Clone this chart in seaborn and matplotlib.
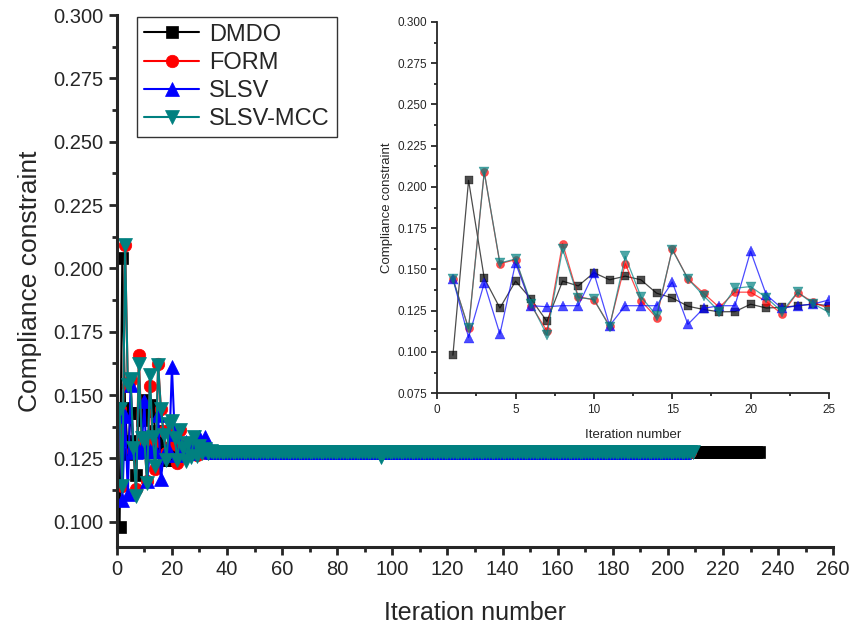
import numpy as np
import pandas as pd
import matplotlib
matplotlib.use("Agg")
import matplotlib.pyplot as plt
from matplotlib.ticker import MultipleLocator
import seaborn as sns

# values (iterations 1-35), then the converged level
dmdo_start = [0.098, 0.204, 0.1447, 0.1266, 0.1429, 0.1319, 0.1185, 0.1429, 0.140, 0.148,
              0.1437, 0.1459, 0.1437, 0.1356, 0.1327, 0.1277, 0.1257, 0.1243, 0.1244, 0.1289,
              0.1266, 0.127, 0.128, 0.129, 0.128, 0.128, 0.1278, 0.1277, 0.1276, 0.1276,
              0.1275, 0.1276, 0.1275, 0.1275, 0.1275]
form_start = [0.1443, 0.1142, 0.2091, 0.1535, 0.1559, 0.128, 0.1128, 0.1657, 0.1335, 0.1315,
              0.1159, 0.1535, 0.1311, 0.1207, 0.1624, 0.1443, 0.1356, 0.127, 0.1362, 0.1362,
              0.1305, 0.123, 0.136, 0.130, 0.1264, 0.129, 0.127, 0.1285, 0.1265, 0.128,
              0.127, 0.1278, 0.1272, 0.1276, 0.1274]
slsv_start = [0.1443, 0.1087, 0.1417, 0.1108, 0.1539, 0.128, 0.1274, 0.128, 0.128, 0.1478,
              0.1159, 0.128, 0.128, 0.128, 0.1423, 0.1167, 0.1264, 0.128, 0.128, 0.161,
              0.1346, 0.1264, 0.128, 0.129, 0.1315, 0.128, 0.127, 0.1325, 0.131, 0.1335,
              0.129, 0.1335, 0.128, 0.1275, 0.1275]
mcc_start = [0.1443, 0.1142, 0.2091, 0.1539, 0.1563, 0.1291, 0.1102, 0.1624, 0.1329, 0.1319,
             0.1152, 0.1579, 0.1335, 0.122, 0.162, 0.1443, 0.1341, 0.1244, 0.1386, 0.1396,
             0.1329, 0.1244, 0.1362, 0.1291, 0.124, 0.131, 0.1255, 0.1335, 0.126, 0.130,
             0.127, 0.1285, 0.1272, 0.1277, 0.1275]

converged = 0.1275
last_iter = {"DMDO": 233, "FORM": 208, "SLSV": 206, "SLSV-MCC": 209}
mcc_dip_iter, mcc_dip_value = 96, 0.1255

starts = {"DMDO": dmdo_start, "FORM": form_start, "SLSV": slsv_start, "SLSV-MCC": mcc_start}
styles = {
    "DMDO": dict(color="black", marker="s", ms=8),
    "FORM": dict(color="red", marker="o", ms=9),
    "SLSV": dict(color="blue", marker="^", ms=10),
    "SLSV-MCC": dict(color="#008080", marker="v", ms=10),
}

series = {}
for name, vals in starts.items():
    y = list(vals) + [converged] * (last_iter[name] - len(vals))
    if name == "SLSV-MCC":
        y[mcc_dip_iter - 1] = mcc_dip_value
    series[name] = pd.DataFrame({"iter": np.arange(1, len(y) + 1), "value": y})

sns.set_style("ticks")
plt.rcParams["font.family"] = ["Liberation Sans", "DejaVu Sans"]
narrow = ["Liberation Sans Narrow", "Liberation Sans"]

fig = plt.figure(figsize=(8.59, 6.28), dpi=100)
ax = fig.add_axes([0.136, 0.129, 0.834, 0.847])

for name, df in series.items():
    st = styles[name]
    sns.lineplot(data=df, x="iter", y="value", ax=ax, label=name, color=st["color"],
                 marker=st["marker"], markersize=st["ms"], mec=st["color"], mfc=st["color"],
                 mew=0.5, linewidth=1.5)

ax.set_xlim(0, 260)
ax.set_ylim(0.09, 0.30)
ax.xaxis.set_major_locator(MultipleLocator(20))
ax.xaxis.set_minor_locator(MultipleLocator(10))
ax.yaxis.set_major_locator(MultipleLocator(0.025))
ax.yaxis.set_minor_locator(MultipleLocator(0.0125))
ax.yaxis.set_major_formatter(matplotlib.ticker.FormatStrFormatter("%.3f"))
for s in ["top", "right"]:
    ax.spines[s].set_visible(False)
for s in ["left", "bottom"]:
    ax.spines[s].set_linewidth(2.2)
ax.tick_params(which="major", direction="out", length=6, width=2, labelsize=14.5)
ax.tick_params(which="minor", direction="out", length=3.5, width=2)
for lab in ax.get_xticklabels():
    lab.set_family(narrow)
ax.set_xlabel("Iteration number", fontsize=18, family=narrow, labelpad=16)
ax.set_ylabel("Compliance constraint", fontsize=19, labelpad=8)

leg = ax.legend(loc="upper left", bbox_to_anchor=(0.028, 0.997), borderaxespad=0,
                fontsize=17, frameon=True, fancybox=False, handlelength=2.35,
                labelspacing=0.26, handletextpad=0.4, borderpad=0.3)
leg.get_frame().set_edgecolor("black")
leg.get_frame().set_linewidth(1.0)

# inset with the first 25 iterations
ins = fig.add_axes([0.509, 0.374, 0.456, 0.591])
for name, df in series.items():
    st = styles[name]
    sub = df[df["iter"] <= 25]
    sns.lineplot(data=sub, x="iter", y="value", ax=ins, color=st["color"], alpha=0.7,
                 marker=st["marker"], markersize=st["ms"] * 0.65, mec=st["color"],
                 mfc=st["color"], mew=0.3, linewidth=0.9, legend=False)
ins.set_xlim(0, 25)
ins.set_ylim(0.075, 0.300)
ins.xaxis.set_major_locator(MultipleLocator(5))
ins.xaxis.set_minor_locator(MultipleLocator(2.5))
ins.yaxis.set_major_locator(MultipleLocator(0.025))
ins.yaxis.set_minor_locator(MultipleLocator(0.0125))
ins.yaxis.set_major_formatter(matplotlib.ticker.FormatStrFormatter("%.3f"))
for s in ["top", "right"]:
    ins.spines[s].set_visible(False)
for s in ["left", "bottom"]:
    ins.spines[s].set_linewidth(1.3)
ins.tick_params(which="major", direction="out", length=4, width=1.3, labelsize=8.5)
ins.tick_params(which="minor", direction="out", length=2.5, width=1.3)
ins.set_xlabel("Iteration number", fontsize=9.5, labelpad=10)
ins.set_ylabel("Compliance constraint", fontsize=9.5, labelpad=3)

fig.savefig("out.png", dpi=100)
